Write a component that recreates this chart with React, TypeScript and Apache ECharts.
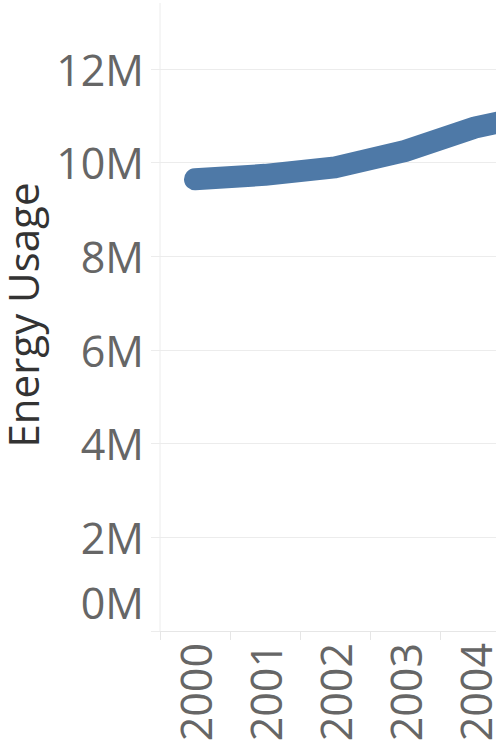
import React, { useEffect, useRef } from "react";
import * as echarts from "echarts";

const years = ["2000", "2001", "2002", "2003", "2004", "2005"];
const energyUsage = [9.645e6, 9.74e6, 9.9e6, 10.25e6, 10.75e6, 11.08e6];
const yTickValues = [0, 2e6, 4e6, 6e6, 8e6, 10e6, 12e6];
const yTickLabels = ["0M", "2M", "4M", "6M", "8M", "10M", "12M"];
const yAxisTitle = "Energy Usage";

const FONT = "Open Sans";
const GRID_COLOR = "#ececec";

export default function App() {
  const ref = useRef<HTMLDivElement>(null);

  useEffect(() => {
    if (!ref.current) return;
    const chart = echarts.init(ref.current, undefined, { renderer: "svg" });
    chart.setOption({
      animation: false,
      backgroundColor: "#ffffff",
      grid: { left: 160, top: 69, bottom: 115, right: 120, containLabel: false },
      xAxis: {
        type: "category",
        data: years,
        boundaryGap: true,
        axisLine: { show: true, lineStyle: { color: "#e6e6e6", width: 1 } },
        axisTick: { show: true, length: 9, interval: 0, lineStyle: { color: "#e6e6e6" } },
        splitLine: { show: false },
        axisLabel: {
          rotate: 90,
          interval: 0,
          margin: 12,
          fontSize: 43,
          fontFamily: FONT,
          color: "#666666",
        },
      },
      yAxis: {
        type: "value",
        min: 0,
        max: 12e6,
        interval: 2e6,
        axisLine: { show: false },
        axisTick: { show: true, length: 9, lineStyle: { color: GRID_COLOR } },
        splitLine: { show: true, lineStyle: { color: GRID_COLOR, width: 1 } },
        axisLabel: {
          margin: 16,
          fontSize: 43,
          fontFamily: FONT,
          color: "#666666",
          formatter: (v: number) => {
            const idx = yTickValues.indexOf(v);
            const label = idx >= 0 ? yTickLabels[idx] : "";
            return v === 0 ? `{zero|${label}}` : label;
          },
          rich: {
            zero: {
              fontSize: 43,
              fontFamily: FONT,
              color: "#666666",
              padding: [0, 0, 58, 0],
            },
          },
        },
      },
      graphic: [
        {
          type: "line",
          z: -1,
          shape: { x1: 160, y1: 3, x2: 160, y2: 631 },
          style: { stroke: GRID_COLOR, lineWidth: 1 },
          silent: true,
        },
        {
          type: "text",
          x: 22,
          y: 315,
          rotation: Math.PI / 2,
          style: {
            text: yAxisTitle,
            fontSize: 42,
            fontFamily: FONT,
            fill: "#333333",
            align: "center",
            verticalAlign: "middle",
          },
          silent: true,
        },
      ],
      series: [
        {
          type: "line",
          data: energyUsage,
          showSymbol: false,
          symbol: "none",
          smooth: false,
          lineStyle: { width: 22, color: "#4e79a7", cap: "round", join: "round" },
        },
      ],
    });
    return () => chart.dispose();
  }, []);

  return (
    <div
      style={{
        position: "fixed",
        left: 0,
        top: 0,
        width: 496,
        height: 746,
        overflow: "hidden",
        background: "#ffffff",
      }}
    >
      <div ref={ref} style={{ width: 700, height: 746 }} />
    </div>
  );
}
